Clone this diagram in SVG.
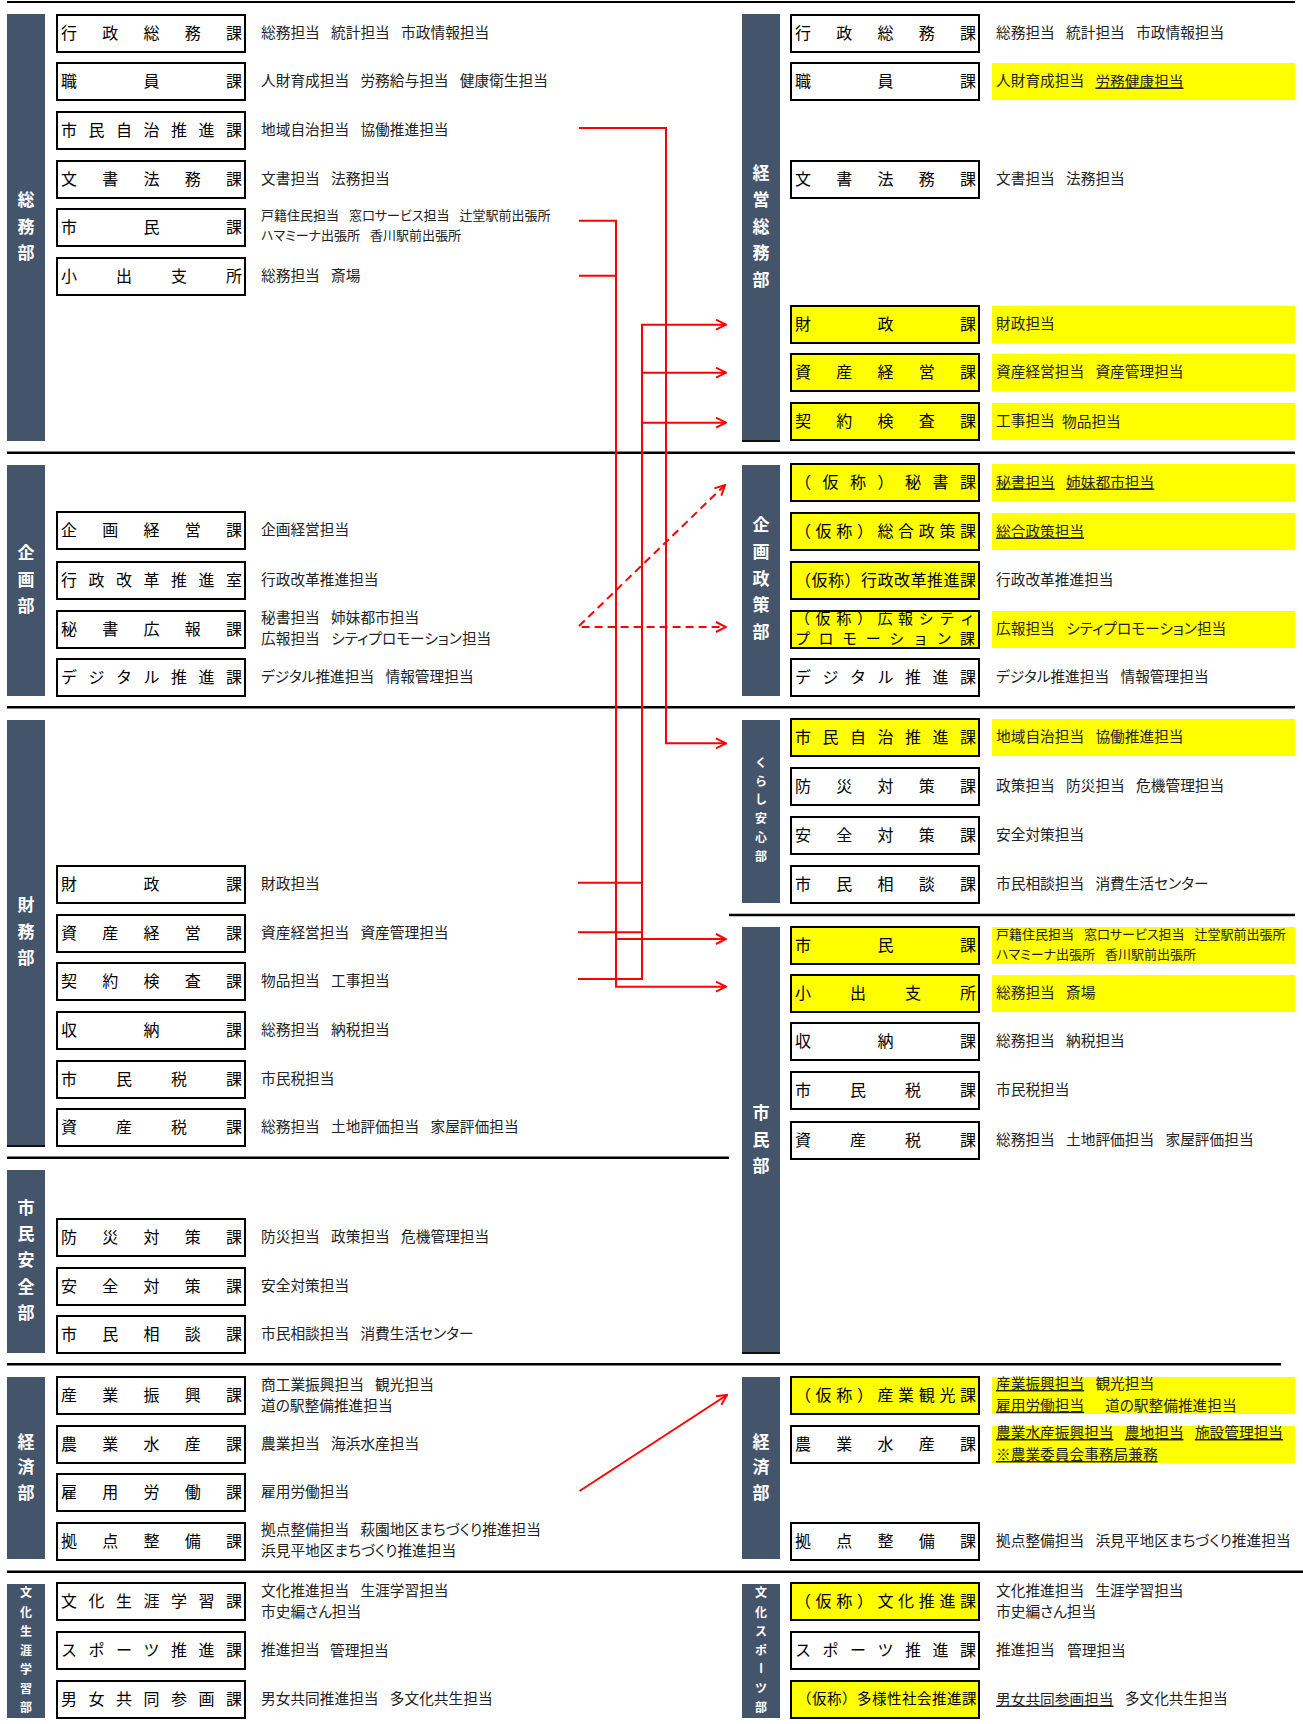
<svg xmlns="http://www.w3.org/2000/svg" width="1303" height="1724" viewBox="0 0 1303 1724">
<style>
.bar{fill:#44546A}
.be{fill:#111}
.bx{fill:#fff;stroke:#000;stroke-width:2}
.by{fill:#ff0;stroke:#000;stroke-width:2}
.hl{fill:#ff0}
.bt{font-family:"Noto Sans CJK JP","Noto Sans CJK SC",sans-serif;font-size:16px;fill:#000;dominant-baseline:central;transform:translateY(-2px)}
.it{font-family:"Noto Sans CJK JP","Noto Sans CJK SC",sans-serif;font-size:14.7px;fill:#222;dominant-baseline:central;font-feature-settings:"palt";word-spacing:8px;transform:translateY(-2px)}
.sm{font-size:13px;word-spacing:7px}
.u{text-decoration:underline}
.dt{font-family:"Noto Sans CJK JP","Noto Sans CJK SC",sans-serif;font-size:17px;font-weight:bold;fill:#fff;text-anchor:middle;dominant-baseline:central;transform:translateY(-2px)}
.ds{font-size:12px}
.dv{stroke:#000;stroke-width:2.5}
.rc{stroke:#f00;stroke-width:2;fill:none}
.rd{stroke-dasharray:8 5}
</style>
<defs>
<marker id="ah" viewBox="0 0 12 12" refX="11" refY="6" markerWidth="12" markerHeight="12" markerUnits="userSpaceOnUse" orient="auto-start-reverse"><path d="M1,1 L11,6 L1,11" fill="none" stroke="#f00" stroke-width="2"/></marker>
</defs>

<g id="dividers">
<line class="dv" x1="7" y1="2" x2="1295" y2="2" style="stroke-width:2"/>
<line class="dv" x1="7" y1="452.7" x2="1295" y2="452.7"/>
<line class="dv" x1="7" y1="707.3" x2="1295" y2="707.3"/>
<line class="dv" x1="729" y1="915" x2="1295" y2="915"/>
<line class="dv" x1="7" y1="1157.7" x2="729" y2="1157.7"/>
<line class="dv" x1="7" y1="1364.3" x2="1281" y2="1364.3"/>
<line class="dv" x1="7" y1="1571.7" x2="1303" y2="1571.7"/>
</g>

<g id="highlights">
<rect class="hl" x="992" y="63" width="303" height="37"/>
<rect class="hl" x="992" y="306" width="303" height="37"/>
<rect class="hl" x="992" y="354" width="303" height="37"/>
<rect class="hl" x="992" y="403" width="303" height="37"/>
<rect class="hl" x="992" y="464" width="303" height="37"/>
<rect class="hl" x="992" y="513" width="303" height="37"/>
<rect class="hl" x="992" y="611" width="303" height="37"/>
<rect class="hl" x="992" y="719" width="303" height="37"/>
<rect class="hl" x="992" y="927" width="303" height="37"/>
<rect class="hl" x="992" y="975" width="303" height="37"/>
<rect class="hl" x="992" y="1377" width="303" height="37"/>
<rect class="hl" x="992" y="1426" width="303" height="37"/>
</g>

<!-- ============ LEFT: departments ============ -->
<g id="dept-L-somu"><rect class="bar" x="7" y="14" width="38" height="427"/><text class="dt" x="26 26 26" y="200 227 253">総務部</text></g>
<g id="dept-L-kikaku"><rect class="bar" x="7" y="465" width="38" height="231"/><text class="dt" x="26 26 26" y="553 580 606">企画部</text></g>
<g id="dept-L-zaimu"><rect class="bar" x="7" y="720" width="38" height="426"/><rect class="be" x="7" y="1145" width="38" height="2"/><text class="dt" x="26 26 26" y="905 932 958">財務部</text></g>
<g id="dept-L-shiminanzen"><rect class="bar" x="7" y="1170" width="38" height="183"/><text class="dt" x="26 26 26 26 26" y="1208 1234 1260 1287 1313">市民安全部</text></g>
<g id="dept-L-keizai"><rect class="bar" x="7" y="1377" width="38" height="182"/><text class="dt" x="26 26 26" y="1442 1467 1493">経済部</text></g>
<g id="dept-L-bunka"><rect class="bar" x="7" y="1584" width="38" height="134"/><text class="dt ds" x="26 26 26 26 26 26 26" y="1593 1613 1632 1651 1670 1689 1708">文化生涯学習部</text></g>

<!-- ============ RIGHT: departments ============ -->
<g id="dept-R-keieisomu"><rect class="bar" x="742" y="14" width="38" height="427"/><rect class="be" x="742" y="440" width="38" height="2"/><text class="dt" x="761 761 761 761 761" y="173 200 227 253 280">経営総務部</text></g>
<g id="dept-R-kikakuseisaku"><rect class="bar" x="742" y="465" width="38" height="231"/><text class="dt" x="761 761 761 761 761" y="525 552 579 605 632">企画政策部</text></g>
<g id="dept-R-kurashi"><rect class="bar" x="742" y="720" width="38" height="183"/><text class="dt ds" x="761 761 761 761 761 761" y="763 782 800 819 838 857">くらし安心部</text></g>
<g id="dept-R-shimin"><rect class="bar" x="742" y="927" width="38" height="426"/><rect class="be" x="742" y="1352" width="38" height="2"/><text class="dt" x="761 761 761" y="1113 1140 1166">市民部</text></g>
<g id="dept-R-keizai"><rect class="bar" x="742" y="1377" width="38" height="182"/><text class="dt" x="761 761 761" y="1442 1467 1493">経済部</text></g>
<g id="dept-R-bunkasports"><rect class="bar" x="742" y="1584" width="38" height="134"/><text class="dt ds" x="761 761 761 761" y="1593 1613 1632 1651">文化スポ</text><text class="dt ds" style="transform:rotate(90deg);transform-origin:761px 1668px" x="761" y="1668">ー</text><text class="dt ds" x="761 761" y="1689 1708">ツ部</text></g>

<!-- ============ LEFT: sections ============ -->
<g id="L-gyoseisomu"><rect class="bx" x="57" y="15" width="188" height="37"/><text class="bt" x="61 102.25 143.5 184.75 226" y="33.5">行政総務課</text><text class="it" x="261" y="33.5">総務担当 統計担当 市政情報担当</text></g>
<g id="L-shokuin"><rect class="bx" x="57" y="63" width="188" height="37"/><text class="bt" x="61 143.5 226" y="81.5">職員課</text><text class="it" x="261" y="81.5">人財育成担当 労務給与担当 健康衛生担当</text></g>
<g id="L-shiminjichi"><rect class="bx" x="57" y="112" width="188" height="37"/><text class="bt" x="61 88.5 116 143.5 171 198.5 226" y="130.5">市民自治推進課</text><text class="it" x="261" y="130.5">地域自治担当 協働推進担当</text></g>
<g id="L-bunshohomu"><rect class="bx" x="57" y="161" width="188" height="37"/><text class="bt" x="61 102.25 143.5 184.75 226" y="179.5">文書法務課</text><text class="it" x="261" y="179.5">文書担当 法務担当</text></g>
<g id="L-shimin"><rect class="bx" x="57" y="209" width="188" height="37"/><text class="bt" x="61 143.5 226" y="227.5">市民課</text><text class="it sm" x="261" y="216.7">戸籍住民担当 窓口サービス担当 辻堂駅前出張所</text><text class="it sm" x="261" y="236.7">ハマミーナ出張所 香川駅前出張所</text></g>
<g id="L-koide"><rect class="bx" x="57" y="258" width="188" height="37"/><text class="bt" x="61 116 171 226" y="276.5">小出支所</text><text class="it" x="261" y="276.5">総務担当 斎場</text></g>

<g id="L-kikakukeiei"><rect class="bx" x="57" y="512" width="188" height="37"/><text class="bt" x="61 102.25 143.5 184.75 226" y="530.5">企画経営課</text><text class="it" x="261" y="530.5">企画経営担当</text></g>
<g id="L-gyoseikaikaku"><rect class="bx" x="57" y="562" width="188" height="37"/><text class="bt" x="61 88.5 116 143.5 171 198.5 226" y="580.5">行政改革推進室</text><text class="it" x="261" y="580.5">行政改革推進担当</text></g>
<g id="L-hishokoho"><rect class="bx" x="57" y="611" width="188" height="37"/><text class="bt" x="61 102.25 143.5 184.75 226" y="629.5">秘書広報課</text><text class="it" x="261" y="618.3">秘書担当 姉妹都市担当</text><text class="it" x="261" y="639.3">広報担当 シティプロモーション担当</text></g>
<g id="L-digital"><rect class="bx" x="57" y="659" width="188" height="37"/><text class="bt" x="61 88.5 116 143.5 171 198.5 226" y="677.5">デジタル推進課</text><text class="it" x="261" y="677.5">デジタル推進担当 情報管理担当</text></g>

<g id="L-zaisei"><rect class="bx" x="57" y="866" width="188" height="37"/><text class="bt" x="61 143.5 226" y="884.5">財政課</text><text class="it" x="261" y="884.5">財政担当</text></g>
<g id="L-shisankeiei"><rect class="bx" x="57" y="915" width="188" height="37"/><text class="bt" x="61 102.25 143.5 184.75 226" y="933.5">資産経営課</text><text class="it" x="261" y="933.5">資産経営担当 資産管理担当</text></g>
<g id="L-keiyaku"><rect class="bx" x="57" y="963" width="188" height="37"/><text class="bt" x="61 102.25 143.5 184.75 226" y="981.5">契約検査課</text><text class="it" x="261" y="981.5">物品担当 工事担当</text></g>
<g id="L-shuno"><rect class="bx" x="57" y="1012" width="188" height="37"/><text class="bt" x="61 143.5 226" y="1030.5">収納課</text><text class="it" x="261" y="1030.5">総務担当 納税担当</text></g>
<g id="L-shiminzei"><rect class="bx" x="57" y="1061" width="188" height="37"/><text class="bt" x="61 116 171 226" y="1079.5">市民税課</text><text class="it" x="261" y="1079.5">市民税担当</text></g>
<g id="L-shisanzei"><rect class="bx" x="57" y="1109" width="188" height="37"/><text class="bt" x="61 116 171 226" y="1127.5">資産税課</text><text class="it" x="261" y="1127.5">総務担当 土地評価担当 家屋評価担当</text></g>

<g id="L-bosai"><rect class="bx" x="57" y="1219" width="188" height="37"/><text class="bt" x="61 102.25 143.5 184.75 226" y="1237.5">防災対策課</text><text class="it" x="261" y="1237.5">防災担当 政策担当 危機管理担当</text></g>
<g id="L-anzen"><rect class="bx" x="57" y="1268" width="188" height="37"/><text class="bt" x="61 102.25 143.5 184.75 226" y="1286.5">安全対策課</text><text class="it" x="261" y="1286.5">安全対策担当</text></g>
<g id="L-shiminsodan"><rect class="bx" x="57" y="1316" width="188" height="37"/><text class="bt" x="61 102.25 143.5 184.75 226" y="1334.5">市民相談課</text><text class="it" x="261" y="1334.5">市民相談担当 消費生活センター</text></g>

<g id="L-sangyoshinko"><rect class="bx" x="57" y="1377" width="188" height="37"/><text class="bt" x="61 102.25 143.5 184.75 226" y="1395.5">産業振興課</text><text class="it" x="261" y="1385">商工業振興担当 観光担当</text><text class="it" x="261" y="1406">道の駅整備推進担当</text></g>
<g id="L-nogyo"><rect class="bx" x="57" y="1426" width="188" height="37"/><text class="bt" x="61 102.25 143.5 184.75 226" y="1444.5">農業水産課</text><text class="it" x="261" y="1444.5">農業担当 海浜水産担当</text></g>
<g id="L-koyo"><rect class="bx" x="57" y="1474" width="188" height="37"/><text class="bt" x="61 102.25 143.5 184.75 226" y="1492.5">雇用労働課</text><text class="it" x="261" y="1492.5">雇用労働担当</text></g>
<g id="L-kyoten"><rect class="bx" x="57" y="1523" width="188" height="37"/><text class="bt" x="61 102.25 143.5 184.75 226" y="1541.5">拠点整備課</text><text class="it" x="261" y="1530">拠点整備担当 萩園地区まちづくり推進担当</text><text class="it" x="261" y="1551">浜見平地区まちづくり推進担当</text></g>

<g id="L-bunkashogai"><rect class="bx" x="57" y="1583" width="188" height="37"/><text class="bt" x="61 88.5 116 143.5 171 198.5 226" y="1601.5">文化生涯学習課</text><text class="it" x="261" y="1591.7">文化推進担当 生涯学習担当</text><text class="it" x="261" y="1612.7">市史編さん担当</text></g>
<g id="L-sports"><rect class="bx" x="57" y="1632" width="188" height="37"/><text class="bt" x="61 88.5 116 143.5 171 198.5 226" y="1650.5">スポーツ推進課</text><text class="it" x="261" y="1650.5">推進担当<tspan x="330">管理担当</tspan></text></g>
<g id="L-danjo"><rect class="bx" x="57" y="1681" width="188" height="37"/><text class="bt" x="61 88.5 116 143.5 171 198.5 226" y="1699.5">男女共同参画課</text><text class="it" x="261" y="1699.5">男女共同推進担当 多文化共生担当</text></g>

<!-- ============ RIGHT: sections ============ -->
<g id="R-gyoseisomu"><rect class="bx" x="791" y="15" width="188" height="37"/><text class="bt" x="795 836.25 877.5 918.75 960" y="33.5">行政総務課</text><text class="it" x="996" y="33.5">総務担当 統計担当 市政情報担当</text></g>
<g id="R-shokuin"><rect class="bx" x="791" y="63" width="188" height="37"/><text class="bt" x="795 877.5 960" y="81.5">職員課</text><text class="it" x="996" y="81.5">人財育成担当 <tspan class="u">労務健康担当</tspan></text></g>
<g id="R-bunshohomu"><rect class="bx" x="791" y="161" width="188" height="37"/><text class="bt" x="795 836.25 877.5 918.75 960" y="179.5">文書法務課</text><text class="it" x="996" y="179.5">文書担当 法務担当</text></g>
<g id="R-zaisei"><rect class="by" x="791" y="306" width="188" height="37"/><text class="bt" x="795 877.5 960" y="324.5">財政課</text><text class="it" x="996" y="324.5">財政担当</text></g>
<g id="R-shisankeiei"><rect class="by" x="791" y="354" width="188" height="37"/><text class="bt" x="795 836.25 877.5 918.75 960" y="372.5">資産経営課</text><text class="it" x="996" y="372.5">資産経営担当 資産管理担当</text></g>
<g id="R-keiyaku"><rect class="by" x="791" y="403" width="188" height="37"/><text class="bt" x="795 836.25 877.5 918.75 960" y="421.5">契約検査課</text><text class="it" x="996" y="421.5">工事担当<tspan x="1062">物品担当</tspan></text></g>

<g id="R-hisho"><rect class="by" x="791" y="464" width="188" height="37"/><text class="bt" x="795 822.5 850 877.5 905 932.5 960" y="482.5">（仮称）秘書課</text><text class="it" x="996" y="482.5"><tspan class="u">秘書担当</tspan> <tspan class="u">姉妹都市担当</tspan></text></g>
<g id="R-sogoseisaku"><rect class="by" x="791" y="513" width="188" height="37"/><text class="bt" x="795 815.6 836.3 856.9 877.5 898.1 918.8 939.4 960" y="531.5">（仮称）総合政策課</text><text class="it" x="996" y="531.5"><tspan class="u">総合政策担当</tspan></text></g>
<g id="R-gyoseikaikaku"><rect class="by" x="791" y="562" width="188" height="37"/><text class="bt" x="795 811.5 828 844.5 861 877.5 894 910.5 927 943.5 960" y="580.5">（仮称）行政改革推進課</text><text class="it" x="996" y="580.5">行政改革推進担当</text></g>
<g id="R-koho"><rect class="by" x="791" y="611" width="188" height="37"/><text class="bt" style="font-size:15px" x="795 815.6 836.3 856.9 877.5 898.1 918.8 939.4 960" y="619">（仮称）広報シティ</text><text class="bt" style="font-size:15px" x="795 818.6 842.1 865.7 889.3 912.9 936.4 960" y="639.5">プロモーション課</text><text class="it" x="996" y="629.5">広報担当 シティプロモーション担当</text></g>
<g id="R-digital"><rect class="bx" x="791" y="659" width="188" height="37"/><text class="bt" x="795 822.5 850 877.5 905 932.5 960" y="677.5">デジタル推進課</text><text class="it" x="996" y="677.5">デジタル推進担当 情報管理担当</text></g>

<g id="R-shiminjichi"><rect class="by" x="791" y="719" width="188" height="37"/><text class="bt" x="795 822.5 850 877.5 905 932.5 960" y="737.5">市民自治推進課</text><text class="it" x="996" y="737.5">地域自治担当 協働推進担当</text></g>
<g id="R-bosai"><rect class="bx" x="791" y="768" width="188" height="37"/><text class="bt" x="795 836.25 877.5 918.75 960" y="786.5">防災対策課</text><text class="it" x="996" y="786.5">政策担当 防災担当 危機管理担当</text></g>
<g id="R-anzen"><rect class="bx" x="791" y="817" width="188" height="37"/><text class="bt" x="795 836.25 877.5 918.75 960" y="835.5">安全対策課</text><text class="it" x="996" y="835.5">安全対策担当</text></g>
<g id="R-shiminsodan"><rect class="bx" x="791" y="866" width="188" height="37"/><text class="bt" x="795 836.25 877.5 918.75 960" y="884.5">市民相談課</text><text class="it" x="996" y="884.5">市民相談担当 消費生活センター</text></g>

<g id="R-shimin"><rect class="by" x="791" y="927" width="188" height="37"/><text class="bt" x="795 877.5 960" y="945.5">市民課</text><text class="it sm" x="996" y="935">戸籍住民担当 窓口サービス担当 辻堂駅前出張所</text><text class="it sm" x="996" y="955">ハマミーナ出張所 香川駅前出張所</text></g>
<g id="R-koide"><rect class="by" x="791" y="975" width="188" height="37"/><text class="bt" x="795 850 905 960" y="993.5">小出支所</text><text class="it" x="996" y="993.5">総務担当 斎場</text></g>
<g id="R-shuno"><rect class="bx" x="791" y="1023" width="188" height="37"/><text class="bt" x="795 877.5 960" y="1041.5">収納課</text><text class="it" x="996" y="1041.5">総務担当 納税担当</text></g>
<g id="R-shiminzei"><rect class="bx" x="791" y="1072" width="188" height="37"/><text class="bt" x="795 850 905 960" y="1090.5">市民税課</text><text class="it" x="996" y="1090.5">市民税担当</text></g>
<g id="R-shisanzei"><rect class="bx" x="791" y="1122" width="188" height="37"/><text class="bt" x="795 850 905 960" y="1140.5">資産税課</text><text class="it" x="996" y="1140.5">総務担当 土地評価担当 家屋評価担当</text></g>

<g id="R-sangyokanko"><rect class="by" x="791" y="1377" width="188" height="37"/><text class="bt" x="795 815.6 836.3 856.9 877.5 898.1 918.8 939.4 960" y="1395.5">（仮称）産業観光課</text><text class="it" x="996" y="1384"><tspan class="u">産業振興担当</tspan> 観光担当</text><text class="it" x="996" y="1405.7"><tspan class="u">雇用労働担当</tspan><tspan x="1105">道の駅整備推進担当</tspan></text></g>
<g id="R-nogyo"><rect class="bx" x="791" y="1426" width="188" height="37"/><text class="bt" x="795 836.25 877.5 918.75 960" y="1444.5">農業水産課</text><text class="it" x="996" y="1433"><tspan class="u">農業水産振興担当</tspan> <tspan class="u">農地担当</tspan> <tspan class="u">施設管理担当</tspan></text><text class="it" x="996" y="1455"><tspan class="u">※農業委員会事務局兼務</tspan></text></g>
<g id="R-kyoten"><rect class="bx" x="791" y="1523" width="188" height="37"/><text class="bt" x="795 836.25 877.5 918.75 960" y="1541.5">拠点整備課</text><text class="it" x="996" y="1541.5">拠点整備担当 浜見平地区まちづくり推進担当</text></g>

<g id="R-bunka"><rect class="by" x="791" y="1583" width="188" height="37"/><text class="bt" x="795 815.6 836.3 856.9 877.5 898.1 918.8 939.4 960" y="1601.5">（仮称）文化推進課</text><text class="it" x="996" y="1591.7">文化推進担当 生涯学習担当</text><text class="it" x="996" y="1612.7">市史編さん担当</text></g>
<g id="R-sports"><rect class="bx" x="791" y="1632" width="188" height="37"/><text class="bt" x="795 822.5 850 877.5 905 932.5 960" y="1650.5">スポーツ推進課</text><text class="it" x="996" y="1650.5">推進担当<tspan x="1067">管理担当</tspan></text></g>
<g id="R-tayosei"><rect class="by" x="791" y="1681" width="188" height="37"/><text class="bt" style="font-size:14.5px" x="797 812 827 842 857 872 887 902 917 932 947 962" y="1699.5">（仮称）多様性社会推進課</text><text class="it" x="996" y="1699.5"><tspan class="u">男女共同参画担当</tspan> 多文化共生担当</text></g>

<!-- ============ connectors ============ -->
<g id="connectors">
<path class="rc" d="M579,128 H666 V743.3 H726" marker-end="url(#ah)"/>
<path class="rc" d="M579,220.7 H616 V986.7 H726" marker-end="url(#ah)"/>
<path class="rc" d="M579,275.7 H616"/>
<path class="rc" d="M616,939 H726" marker-end="url(#ah)"/>
<path class="rc" d="M578,882.7 H642"/>
<path class="rc" d="M578,932.3 H642"/>
<path class="rc" d="M578,979 H642 V324.7 H726" marker-end="url(#ah)"/>
<path class="rc" d="M642,372.7 H726" marker-end="url(#ah)"/>
<path class="rc" d="M642,422.7 H726" marker-end="url(#ah)"/>
<path class="rc rd" d="M725,485 L578,627 L726,627" marker-start="url(#ah)" marker-end="url(#ah)"/>
<path class="rc" d="M579.6,1491 L727,1395" marker-end="url(#ah)"/>
</g>
</svg>
